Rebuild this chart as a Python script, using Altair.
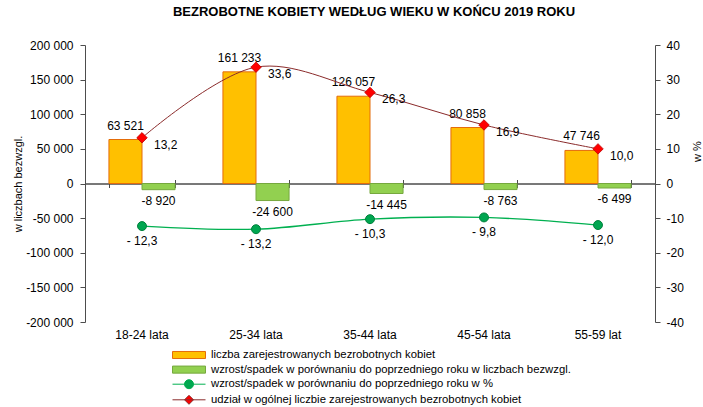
import altair as alt
import pandas as pd

# ---------------- data ----------------
categories = ["18-24 lata", "25-34 lata", "35-44 lata", "45-54 lata", "55-59 lat"]
registered = [63521, 161233, 126057, 80858, 47746]
change_abs = [-8920, -24600, -14445, -8763, -6499]
change_pct = [-12.3, -13.2, -10.3, -9.8, -12.0]
share_pct = [13.2, 33.6, 26.3, 16.9, 10.0]

series_names = [
    "liczba zarejestrowanych bezrobotnych kobiet",
    "wzrost/spadek w porównaniu do poprzedniego roku w liczbach bezwzgl.",
    "wzrost/spadek  w porównaniu do poprzedniego roku w %",
    "udział w ogólnej liczbie zarejestrowanych bezrobotnych kobiet",
]
fill_colors = ["#FFC000", "#92D050", "#00A650", "#FF0000"]
stroke_colors = ["#E46C0A", "#76A83E", "#00B050", "#8B2B2B"]
legend_shapes = [
    "M-2.2,-0.47H2.2V0.47H-2.2Z",
    "M-2.2,-0.47H2.2V0.47H-2.2Z",
    "M-2.2,0H2.2M0.6,0A0.6,0.6,0,1,1,-0.6,0A0.6,0.6,0,1,1,0.6,0Z",
    "M-2.2,0H2.2M0,-0.6L0.6,0L0,0.6L-0.6,0Z",
]
title_text = "BEZROBOTNE  KOBIETY WEDŁUG WIEKU W  KOŃCU 2019 ROKU"


def fmt_int(v):
    return f"{v:,}".replace(",", " ")


def fmt_dec(v):
    return f"{v:.1f}".replace(".", ",")


def fmt_neg_dec(v):
    s = fmt_dec(abs(v))
    return ("- " + s) if v < 0 else s


bar_rows = []
for c, r, d in zip(categories, registered, change_abs):
    bar_rows.append({"cat": c, "series": series_names[0], "value": r, "label": fmt_int(r)})
    bar_rows.append({"cat": c, "series": series_names[1], "value": d, "label": fmt_int(d)})
bars_df = pd.DataFrame(bar_rows)

lines_df = pd.DataFrame({
    "cat": categories,
    "pct": change_pct,
    "pct_label": [fmt_neg_dec(v) for v in change_pct],
    "share": share_pct,
    "share_label": [fmt_dec(v) for v in share_pct],
})
legend_df = pd.DataFrame({"series": series_names})

# ---------------- styling ----------------
FONT = "Liberation Sans"
AX = "#4D4D4D"
W, H = 570, 277

x_scale = alt.Scale(domain=categories, paddingInner=0.42, paddingOuter=0.21)
xo_scale = alt.Scale(domain=series_names[:2], paddingInner=0, paddingOuter=0)
yl_scale = alt.Scale(domain=[-200000, 200000], nice=False, zero=False)
yr_scale = alt.Scale(domain=[-40, 40], nice=False, zero=False)
fill_scale = alt.Scale(domain=series_names, range=fill_colors)
stroke_scale = alt.Scale(domain=series_names, range=stroke_colors)
shape_scale = alt.Scale(domain=series_names, range=legend_shapes)

left_axis = alt.Axis(
    orient="left", values=list(range(-200000, 200001, 50000)),
    labelExpr="replace(replace(format(datum.value, ','), ',', ' '), '\u2212', '-')",
    grid=False, domainColor=AX, tickColor=AX, tickSize=5, labelPadding=7,
    labelFont=FONT, labelFontSize=12, labelColor="#000",
    title="w liczbach bezwzgl.", titleFont=FONT, titleFontSize=11,
    titleFontWeight="normal", titleColor="#000", titleAngle=270,
    titleBaseline="bottom", titleAlign="center", titleX=-62, titleY=H / 2,
)
right_axis = alt.Axis(
    orient="right", values=list(range(-40, 41, 10)),
    labelExpr="replace(format(datum.value, 'd'), '\u2212', '-')",
    grid=False, domainColor=AX, tickColor=AX, tickSize=5, labelPadding=6,
    labelFont=FONT, labelFontSize=12, labelColor="#000",
    title="w %", titleFont=FONT, titleFontSize=11,
    titleFontWeight="normal", titleColor="#000", titleAngle=270,
    titleBaseline="bottom", titleAlign="center", titleX=47, titleY=106,
    zindex=2,
)
x_label_axis = alt.Axis(
    orient="bottom", title=None, domain=False, ticks=False, labelAngle=0,
    labelPadding=7, labelFont=FONT, labelFontSize=12, labelColor="#000",
)
zero_axis_bottom = alt.Axis(
    orient="bottom", offset=-H / 2, labels=False, title=None, tickBand="extent",
    tickSize=4, domainColor=AX, tickColor=AX, grid=False,
)
zero_axis_top = alt.Axis(
    orient="top", offset=-H / 2, labels=False, title=None, tickBand="extent",
    tickSize=4, domainColor=AX, tickColor=AX, grid=False,
)

# ---------------- legend (no visible marks, only the legend) ----------------
leg = alt.Legend(
    title=None, orient="none", legendX=96, legendY=302, direction="vertical",
    symbolSize=225, symbolStrokeWidth=1, labelFont=FONT, labelFontSize=11.3,
    labelColor="#000", labelOffset=14, labelLimit=600, rowPadding=0.6, padding=0,
)
legend_layer = alt.Chart(legend_df).transform_filter("false").mark_point(
    filled=True, opacity=1, strokeWidth=1
).encode(
    fill=alt.Fill("series:N", scale=fill_scale, legend=leg),
    stroke=alt.Stroke("series:N", scale=stroke_scale, legend=leg),
    shape=alt.Shape("series:N", scale=shape_scale, legend=leg),
)

# ---------------- bars (left scale) ----------------
bar_base = alt.Chart(bars_df)
bars = bar_base.mark_bar(strokeWidth=1).encode(
    x=alt.X("cat:N", scale=x_scale, axis=x_label_axis),
    xOffset=alt.XOffset("series:N", scale=xo_scale),
    y=alt.Y("value:Q", scale=yl_scale, axis=left_axis),
    fill=alt.Fill("series:N", scale=fill_scale, legend=leg),
    stroke=alt.Stroke("series:N", scale=stroke_scale, legend=leg),
)
text_pos = bar_base.transform_filter(
    alt.datum.series == series_names[0]
).mark_text(dy=-14, font=FONT, fontSize=12, color="#000").encode(
    x=alt.X("cat:N", scale=x_scale, axis=zero_axis_bottom),
    xOffset=alt.XOffset("series:N", scale=xo_scale),
    y=alt.Y("value:Q", scale=yl_scale, axis=None),
    text="label:N",
)
text_neg = bar_base.transform_filter(
    alt.datum.series == series_names[1]
).mark_text(dy=11, font=FONT, fontSize=12, color="#000").encode(
    x=alt.X("cat:N", scale=x_scale, axis=zero_axis_top),
    xOffset=alt.XOffset("series:N", scale=xo_scale),
    y=alt.Y("value:Q", scale=yl_scale, axis=None),
    text="label:N",
)

# ---------------- lines (right scale) ----------------
line_base = alt.Chart(lines_df).encode(x=alt.X("cat:N", scale=x_scale, axis=None))
green_line = line_base.mark_line(
    interpolate="catmull-rom", color="#00B050", strokeWidth=1.3
).encode(y=alt.Y("pct:Q", scale=yr_scale, axis=right_axis))
green_pts = line_base.mark_point(
    shape="circle", filled=True, fill="#00A650", stroke="#00803C",
    strokeWidth=1, size=80, opacity=1
).encode(y=alt.Y("pct:Q", scale=yr_scale, axis=None))
green_txt = line_base.mark_text(
    dy=15, font=FONT, fontSize=12, color="#000"
).encode(y=alt.Y("pct:Q", scale=yr_scale, axis=None), text="pct_label:N")
red_line = line_base.mark_line(
    interpolate="catmull-rom", color="#8B2B2B", strokeWidth=1
).encode(y=alt.Y("share:Q", scale=yr_scale, axis=None))
red_pts = line_base.mark_point(
    shape="diamond", filled=True, fill="#FF0000", stroke="#C00000",
    strokeWidth=0.8, size=110, opacity=1
).encode(y=alt.Y("share:Q", scale=yr_scale, axis=None))
red_txt = line_base.mark_text(
    dx=12, dy=7, align="left", font=FONT, fontSize=12, color="#000"
).encode(y=alt.Y("share:Q", scale=yr_scale, axis=None), text="share_label:N")

chart = alt.layer(
    legend_layer,
    bars, text_pos, text_neg,
    green_line, green_pts, green_txt, red_line, red_pts, red_txt,
).resolve_scale(y="independent").resolve_axis(x="independent", y="independent").properties(
    width=W, height=H,
    title=alt.TitleParams(
        title_text, font=FONT, fontSize=13, fontWeight="bold", color="#000",
        anchor="middle", frame="group", offset=20, dx=4,
    ),
    padding={"left": 85, "top": 45, "right": 48, "bottom": 85},
    autosize=alt.AutoSizeParams(type="none"),
).configure(font=FONT).configure_view(stroke=None)

chart.save("out.html", embed_options={"renderer": "svg", "actions": False})
